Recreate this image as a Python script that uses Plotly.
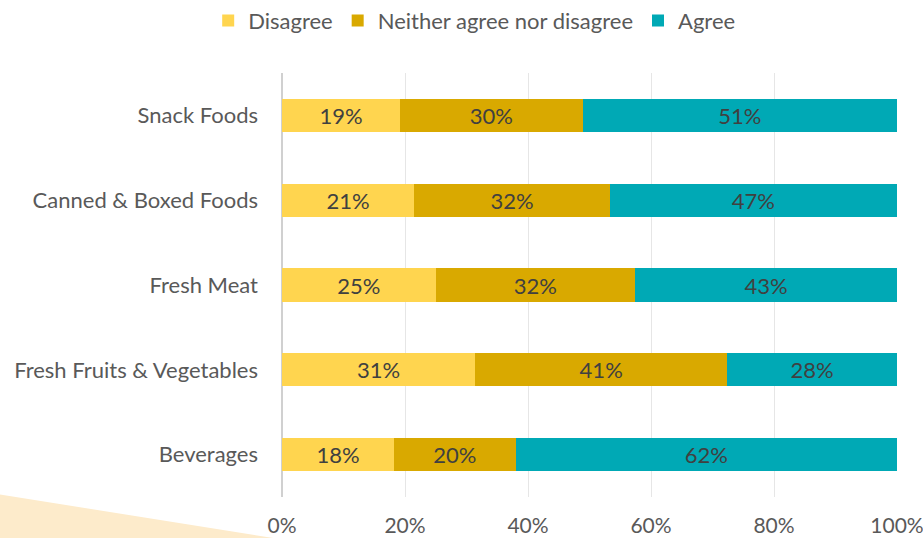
import plotly.graph_objects as go

categories = ["Snack Foods", "Canned & Boxed Foods", "Fresh Meat", "Fresh Fruits & Vegetables", "Beverages"]
disagree = [19.2, 21.5, 25.0, 31.4, 18.2]
neither = [29.7, 31.8, 32.4, 41.0, 19.8]
agree = [51.1, 46.7, 42.6, 27.6, 62.0]
disagree_lbl = ["19%", "21%", "25%", "31%", "18%"]
neither_lbl = ["30%", "32%", "32%", "41%", "20%"]
agree_lbl = ["51%", "47%", "43%", "28%", "62%"]
tick_vals = [0, 20, 40, 60, 80, 100]
tick_text = ["0%", "20%", "40%", "60%", "80%", "100%"]

FONT = "Lato, 'Open Sans', sans-serif"
FS = 22
W, H = 923, 538
L, R, T, B = 282, 26, 72.5, 40.5
pw, ph = W - L - R, H - T - B

fig = go.Figure()
series = [
    ("Disagree", disagree, disagree_lbl, "#FFD54F"),
    ("Neither agree nor disagree", neither, neither_lbl, "#D9A900"),
    ("Agree", agree, agree_lbl, "#00A9B5"),
]
for name, vals, lbl, col in series:
    fig.add_trace(go.Bar(
        y=categories, x=vals, name=name, orientation="h",
        marker=dict(color=col, line=dict(width=0)),
        text=lbl, textposition="inside", insidetextanchor="middle",
        textfont=dict(family=FONT, size=FS, color="#404040"),
        hoverinfo="skip",
    ))

def px2paper(px, py):
    return (px - L) / pw, (H - B - py) / ph

p1 = px2paper(0, 495)
p2 = px2paper(282, 540)
p3 = px2paper(0, 540)
fig.add_shape(type="path", xref="paper", yref="paper",
              path=f"M {p1[0]} {p1[1]} L {p2[0]} {p2[1]} L {p3[0]} {p3[1]} Z",
              fillcolor="#FDEBCB", line=dict(width=0), layer="below")

fig.update_layout(
    width=W, height=H,
    margin=dict(l=L, r=R, t=T, b=B, autoexpand=False),
    barmode="stack", bargap=0.61,
    plot_bgcolor="white", paper_bgcolor="white",
    font=dict(family=FONT, size=FS, color="#595959"),
    legend=dict(orientation="h", x=0.3125, xanchor="center", y=1.1235, yanchor="middle",
                font=dict(family=FONT, size=FS, color="#595959"),
                itemwidth=30, traceorder="normal", tracegroupgap=0),
    xaxis=dict(range=[0, 100], tickvals=tick_vals, ticktext=tick_text, automargin=False,
               showgrid=True, gridcolor="#E6E6E6", gridwidth=1,
               zeroline=True, zerolinecolor="#D0D0D0", zerolinewidth=2,
               showline=False, ticks="", ticklabelstandoff=14, ticklabeloverflow="allow",
               tickfont=dict(family=FONT, size=21, color="#595959")),
    yaxis=dict(autorange="reversed", showgrid=False, ticks="", ticklabelstandoff=23, automargin=False,
               tickfont=dict(family=FONT, size=FS, color="#595959")),
)
fig.write_html("out.html", config={"displayModeBar": False},
               post_script="document.body.style.margin='0';document.body.style.overflow='hidden';")
